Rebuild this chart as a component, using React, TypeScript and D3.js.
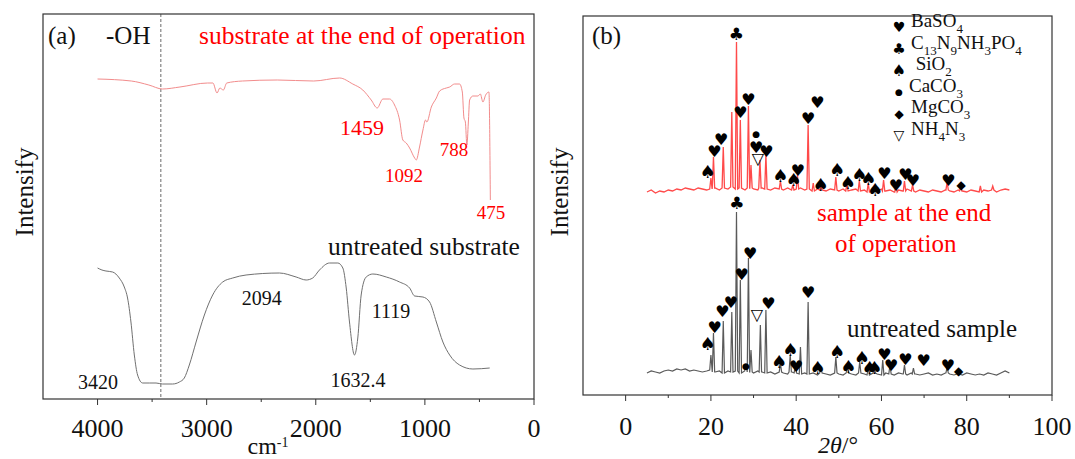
import React from "react";
import * as d3 from "d3";

// ---------- panel (a): FTIR spectra (wavenumber, a.u.) ----------
const ftirEnd: [number, number][] = [
  [4000, 320], [3691, 318], [3530, 314], [3405, 310], [3245, 312], [2991, 316], [2943, 316],
  [2905, 306], [2879, 311], [2847, 309], [2816, 316], [2672, 318], [2353, 319], [2019, 318],
  [1782, 321], [1661, 315], [1569, 309], [1492, 299], [1437, 291], [1385, 300], [1324, 300],
  [1278, 294], [1232, 279], [1202, 259], [1171, 256], [1140, 251], [1094, 241], [1079, 239],
  [1049, 252], [1018, 269], [994, 279], [982, 277], [941, 292], [895, 301], [865, 308],
  [804, 311], [773, 312], [728, 315], [682, 315], [657, 307], [642, 281], [629, 277],
  [615, 254], [602, 276], [590, 299], [560, 303], [514, 303], [492, 305], [468, 297],
  [443, 304], [413, 307], [400, 199],
];

const ftirRaw: [number, number][] = [
  [4000, 131], [3960, 129], [3923, 128], [3862, 127], [3801, 121], [3755, 112], [3725, 101],
  [3694, 77], [3663, 44], [3633, 24], [3587, 16], [3526, 16], [3464, 16], [3404, 15],
  [3312, 15], [3250, 17], [3205, 21], [3159, 34], [3097, 57], [3021, 84], [2945, 104],
  [2853, 117], [2761, 121], [2639, 124], [2333, 126], [2180, 122], [2088, 119], [2028, 121],
  [1966, 129], [1874, 136], [1798, 136], [1752, 131], [1721, 111], [1691, 77], [1645, 44],
  [1615, 61], [1584, 104], [1538, 122], [1477, 125], [1354, 122], [1232, 117], [1140, 111],
  [1094, 103], [1018, 102], [957, 97], [895, 77], [835, 57], [773, 44], [682, 34],
  [560, 30], [406, 31],
];

const ftirTicks = [4000, 3000, 2000, 1000, 0];
const ftirMinor = [3500, 2500, 1500, 500];
const ohLine = 3420;

const ftirEndLabels: [string, number, number, number][] = [
  ["1459", 1576, 272, 22], ["1092", 1191, 224, 19], ["788", 733, 250, 19], ["475", 394, 187, 19],
];
const ftirRawLabels: [string, number, number][] = [
  ["3420", 3996, 17], ["2094", 2496, 101], ["1632.4", 1613, 19], ["1119", 1311, 88],
];

// ---------- panel (b): XRD patterns (2θ, a.u.) ----------
const xrdStart = 5;
const xrdEndBase = [
  203, 205, 202, 204, 203, 205, 204, 206, 205, 207, 206, 205, 207, 206, 205, 206, 207, 205, 207, 206,
  208, 206, 207, 205, 207, 206, 205, 207, 206, 205, 207, 206, 205, 207, 205, 206, 207, 205, 206, 204,
  206, 205, 204, 206, 205, 204, 206, 204, 205, 206, 204, 205, 203, 205, 204, 206, 204, 205, 203, 205,
  204, 206, 204, 203, 205, 204, 203, 205, 204, 203, 205, 204, 203, 205, 204, 203, 205, 204, 203, 205,
  204, 205, 203, 205, 206, 205,
];
const xrdEndPeaks: [number, number][] = [
  [20.0, 217], [20.6, 238], [22.9, 248], [24.9, 283], [26.0, 353], [26.9, 275], [28.8, 289],
  [29.4, 230], [31.5, 235], [32.9, 240], [36.3, 214], [39.2, 210], [40.3, 220], [42.8, 270],
  [44.0, 212], [45.8, 210], [49.3, 218], [51.9, 211], [54.8, 214], [56.9, 212], [58.3, 209],
  [60.5, 215], [63.4, 210], [65.4, 214], [67.3, 210], [75.4, 213], [78.6, 209], [83.2, 209],
  [86.1, 209],
];

const xrdRawBase = [
  22, 24, 23, 22, 24, 25, 24, 26, 25, 26, 24, 25, 24, 23, 24, 25, 23, 24, 22, 24,
  23, 24, 22, 24, 23, 22, 24, 23, 22, 23, 21, 23, 22, 21, 23, 22, 21, 22, 21, 22,
  20, 22, 21, 20, 22, 21, 20, 22, 21, 20, 22, 21, 20, 22, 21, 20, 22, 21, 20, 22,
  21, 20, 22, 21, 20, 21, 22, 20, 21, 20, 22, 21, 20, 21, 20, 22, 21, 20, 21, 20,
  22, 21, 20, 22, 24, 22,
];
const xrdRawPeaks: [number, number][] = [
  [20.0, 40], [20.6, 62], [22.9, 74], [24.9, 83], [26.0, 183], [26.9, 115], [28.2, 30],
  [28.8, 137], [29.4, 45], [31.6, 70], [32.9, 85], [36.3, 32], [38.6, 40], [39.8, 30],
  [41.0, 48], [42.8, 93], [45.8, 28], [49.3, 38], [52.0, 29], [54.9, 33], [56.9, 28],
  [58.3, 28], [60.3, 35], [62.0, 30], [65.4, 30], [67.5, 27], [75.4, 28], [78.0, 25],
];

type Mark = "heart" | "club" | "spade" | "dot" | "diamond" | "tri";
const xrdEndMarks: [number, number, Mark][] = [
  [19.2, 223, "spade"], [20.8, 244, "heart"], [22.4, 256, "heart"], [26.0, 361, "club"],
  [26.9, 283, "heart"], [28.8, 296, "heart"], [30.6, 261, "dot"], [30.6, 248, "heart"],
  [31.0, 237, "tri"], [33.0, 244, "heart"], [36.3, 219, "spade"], [39.4, 215, "spade"],
  [40.4, 225, "heart"], [42.8, 277, "heart"], [45.0, 293, "heart"], [45.7, 210, "spade"],
  [49.6, 225, "spade"], [52.1, 212, "spade"], [54.8, 220, "spade"], [56.9, 216, "spade"],
  [58.5, 205, "spade"], [60.7, 222, "heart"], [63.4, 210, "heart"], [65.6, 221, "heart"],
  [67.4, 215, "heart"], [75.7, 215, "heart"], [78.7, 210, "diamond"],
];
const xrdRawMarks: [number, number, Mark][] = [
  [19.2, 51, "spade"], [20.9, 68, "heart"], [22.7, 84, "heart"], [24.7, 93, "heart"],
  [26.1, 192, "club"], [27.2, 121, "heart"], [29.2, 142, "heart"], [28.2, 29, "dot"],
  [30.8, 81, "tri"], [33.5, 92, "heart"], [36.0, 33, "spade"], [38.6, 45, "spade"],
  [40.0, 29, "heart"], [42.8, 103, "heart"], [45.0, 27, "spade"], [49.6, 43, "spade"],
  [52.2, 28, "spade"], [55.4, 37, "spade"], [57.2, 27, "spade"], [58.3, 27, "spade"],
  [60.7, 41, "heart"], [62.3, 30, "heart"], [65.6, 36, "heart"], [69.9, 35, "heart"],
  [75.6, 30, "heart"], [78.1, 24, "diamond"],
];

const xrdTicks = [0, 20, 40, 60, 80, 100];
const xrdMinor = [10, 30, 50, 70, 90];

const glyph: Record<Mark, string> = { heart: "♥", club: "♣", spade: "♠", dot: "●", diamond: "◆", tri: "▽" };
const glyphSize: Record<Mark, number> = { heart: 16, club: 17, spade: 18, dot: 9, diamond: 12, tri: 16 };

// legend rows: mark, [text, subscript?] segments
const legendRows: [Mark, [string, boolean][]][] = [
  ["heart", [["BaSO", false], ["4", true]]],
  ["club", [["C", false], ["13", true], ["N", false], ["9", true], ["NH", false], ["3", true], ["PO", false], ["4", true]]],
  ["spade", [[" SiO", false], ["2", true]]],
  ["dot", [["CaCO", false], ["3", true]]],
  ["diamond", [["MgCO", false], ["3", true]]],
  ["tri", [["NH", false], ["4", true], ["N", false], ["3", true]]],
];
const legendSize: Record<Mark, number> = { heart: 14, club: 15, spade: 16, dot: 9, diamond: 12, tri: 14 };

const FONT = "'Liberation Serif', 'Times New Roman', serif";
const SYM = "'DejaVu Sans', sans-serif";
const A = { left: 43, right: 534, top: 14, bottom: 399 };
const B = { left: 583, right: 1052, top: 16, bottom: 395 };

function buildTrace(base: number[], peaks: [number, number][]) {
  const w = 0.28;
  const pts: [number, number][] = [];
  base.forEach((v, i) => {
    const t = xrdStart + i;
    if (!peaks.some(([p]) => Math.abs(p - t) < w + 0.05)) pts.push([t, v]);
  });
  peaks.forEach(([t, h]) => {
    const b = base[Math.round(t) - xrdStart];
    pts.push([t - w, b], [t, h], [t + w, b]);
  });
  return pts.sort((a, b) => a[0] - b[0]);
}

function Sub({ segs, x, y }: { segs: [string, boolean][]; x: number; y: number }) {
  const out: React.ReactNode[] = [];
  let shifted = false;
  segs.forEach(([s, sub], i) => {
    let dy = 0;
    if (sub && !shifted) { dy = 6; shifted = true; }
    else if (!sub && shifted) { dy = -6; shifted = false; }
    out.push(
      <tspan key={i} dy={dy} fontSize={sub ? 13 : 19} style={{ whiteSpace: "pre" }}>{s}</tspan>
    );
  });
  return <text x={x} y={y} dy="0.35em" fontFamily={FONT} fill="#111" style={{ whiteSpace: "pre" }}>{out}</text>;
}

export default function App() {
  const xa = d3.scaleLinear().domain([4500, 0]).range([A.left, A.right]);
  const ya = d3.scaleLinear().domain([0, 385]).range([A.bottom, A.top]);
  const xb = d3.scaleLinear().domain([-10, 100]).range([B.left, B.right]);
  const yb = d3.scaleLinear().domain([0, 379]).range([B.bottom, B.top]);

  const lineA = d3.line<[number, number]>().x((d) => xa(d[0])).y((d) => ya(d[1])).curve(d3.curveMonotoneX);
  const lineB = d3.line<[number, number]>().x((d) => xb(d[0])).y((d) => yb(d[1]));

  const endTrace = buildTrace(xrdEndBase, xrdEndPeaks);
  const rawTrace = buildTrace(xrdRawBase, xrdRawPeaks);

  const tickFont = 26;

  return (
    <svg width={1075} height={459} style={{ position: "absolute", left: 0, top: 0, background: "#fff" }} fontFamily={FONT}>
      {/* ===== panel (a) ===== */}
      <line x1={xa(ohLine)} x2={xa(ohLine)} y1={A.top} y2={A.bottom} stroke="#444" strokeWidth={0.8} strokeDasharray="3,2" />
      <path d={lineA(ftirEnd) || ""} fill="none" stroke="#f28c8c" strokeWidth={1} />
      <path d={lineA(ftirRaw) || ""} fill="none" stroke="#707070" strokeWidth={1} />
      <rect x={A.left} y={A.top} width={A.right - A.left} height={A.bottom - A.top} fill="none" stroke="#333" strokeWidth={1.2} />
      {ftirTicks.map((t) => (
        <g key={t}>
          <line x1={xa(t)} x2={xa(t)} y1={A.bottom} y2={A.bottom + 6} stroke="#333" />
          <text x={xa(t)} y={428} dy="0.35em" textAnchor="middle" fontSize={tickFont} fill="#111">{t}</text>
        </g>
      ))}
      {ftirMinor.map((t) => (
        <line key={t} x1={xa(t)} x2={xa(t)} y1={A.bottom} y2={A.bottom + 3} stroke="#333" />
      ))}
      <text x={268} y={454} textAnchor="middle" fontSize={24} fill="#111">
        cm<tspan dy={-7} fontSize={14}>-1</tspan>
      </text>
      <text transform={`translate(24,192) rotate(-90)`} textAnchor="middle" dy="0.35em" fontSize={25} fill="#111">Intensify</text>
      <text x={48} y={35} dy="0.35em" fontSize={25} fill="#111">(a)</text>
      <text x={106} y={35} dy="0.35em" fontSize={25} fill="#111">-OH</text>
      <text x={199} y={35} dy="0.35em" fontSize={25.5} fill="#f00">substrate at the end of operation</text>
      <text x={328} y={246} dy="0.35em" fontSize={25.5} fill="#111">untreated substrate</text>
      {ftirEndLabels.map(([s, wn, v, fs]) => (
        <text key={s} x={xa(wn)} y={ya(v)} dy="0.35em" textAnchor="middle" fontSize={fs} fill="#f00">{s}</text>
      ))}
      {ftirRawLabels.map(([s, wn, v]) => (
        <text key={s} x={xa(wn)} y={ya(v)} dy="0.35em" textAnchor="middle" fontSize={20} fill="#111">{s}</text>
      ))}

      {/* ===== panel (b) ===== */}
      <path d={lineB(endTrace) || ""} fill="none" stroke="#ff4a4a" strokeWidth={1.3} />
      <path d={lineB(rawTrace) || ""} fill="none" stroke="#5a5a5a" strokeWidth={1.2} />
      {[...xrdEndMarks, ...xrdRawMarks].map(([t, v, m], i) => (
        <text key={i} x={xb(t)} y={yb(v)} dy="0.36em" textAnchor="middle" fontFamily={SYM}
          fontSize={glyphSize[m]} fill="#000">{glyph[m]}</text>
      ))}
      <rect x={B.left} y={B.top} width={B.right - B.left} height={B.bottom - B.top} fill="none" stroke="#333" strokeWidth={1.2} />
      {xrdTicks.map((t) => (
        <g key={t}>
          <line x1={xb(t)} x2={xb(t)} y1={B.bottom} y2={B.bottom + 6} stroke="#333" />
          <text x={xb(t)} y={426} dy="0.35em" textAnchor="middle" fontSize={tickFont} fill="#111">{t}</text>
        </g>
      ))}
      {xrdMinor.map((t) => (
        <line key={t} x1={xb(t)} x2={xb(t)} y1={B.bottom} y2={B.bottom + 3} stroke="#333" />
      ))}
      <text x={838} y={453} textAnchor="middle" fontSize={24} fill="#111">
        <tspan fontStyle="italic">2θ</tspan>/°
      </text>
      <text transform={`translate(559,192) rotate(-90)`} textAnchor="middle" dy="0.35em" fontSize={25} fill="#111">Intensify</text>
      <text x={592} y={35} dy="0.35em" fontSize={25} fill="#111">(b)</text>
      <text x={817} y={212} dy="0.35em" fontSize={25} fill="#f00">sample at the end</text>
      <text x={835} y={243} dy="0.35em" fontSize={25} fill="#f00">of operation</text>
      <text x={847} y={328} dy="0.35em" fontSize={25} fill="#111">untreated sample</text>

      {legendRows.map(([m, segs], i) => (
        <g key={i}>
          <text x={899} y={27 + i * 21.6} dy="0.36em" textAnchor="middle" fontFamily={SYM}
            fontSize={legendSize[m]} fill="#000">{glyph[m]}</text>
          <Sub segs={segs} x={m === "dot" ? 909 : 911} y={27 + i * 21.6} />
        </g>
      ))}
    </svg>
  );
}
